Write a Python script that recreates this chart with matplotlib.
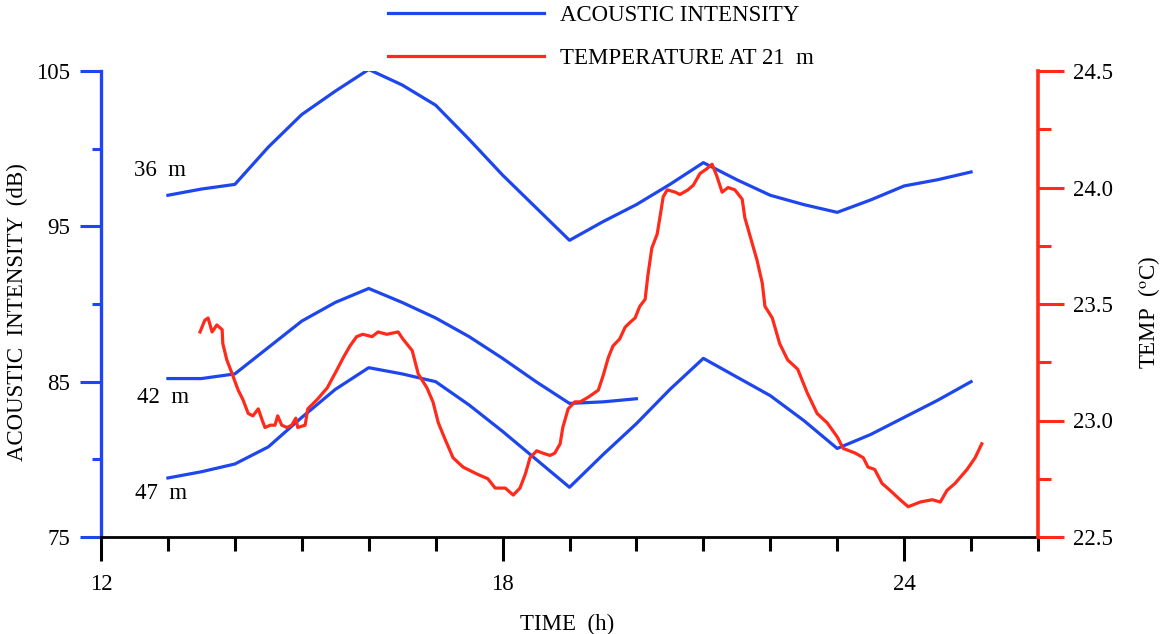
import numpy as np
import matplotlib
matplotlib.use("Agg")
import matplotlib.pyplot as plt
from matplotlib.ticker import MultipleLocator, FormatStrFormatter

plt.rcParams['font.family'] = ['Liberation Serif', 'DejaVu Serif']
plt.rcParams['mathtext.fontset'] = 'stix'

BLUE = '#1e46ee'
RED = '#ff2a1a'
FS = 16.5

# acoustic intensity (dB) at three depths
t_36 = [13.0, 13.5, 14.0, 14.5, 15.0, 15.5, 16.0, 16.5, 17.0, 17.5, 18.0, 18.5, 19.0,
        19.5, 20.0, 20.5, 21.0, 21.5, 22.0, 22.5, 23.0, 23.5, 24.0, 24.5, 25.0]
db_36 = [97.0, 97.4, 97.7, 100.1, 102.2, 103.7, 105.1, 104.1, 102.8, 100.6, 98.3, 96.2, 94.1,
         95.3, 96.4, 97.7, 99.1, 98.0, 97.0, 96.4, 95.9, 96.7, 97.6, 98.0, 98.5]

t_42 = [13.0, 13.5, 14.0, 14.5, 15.0, 15.5, 16.0, 16.5, 17.0, 17.5, 18.0, 18.5, 19.0, 19.5, 20.0]
db_42 = [85.2, 85.2, 85.5, 87.2, 88.9, 90.1, 91.0, 90.1, 89.1, 87.9, 86.5, 85.0, 83.6, 83.7, 83.9]

t_47 = [13.0, 13.5, 14.0, 14.5, 15.0, 15.5, 16.0, 16.5, 17.0, 17.5, 18.0, 18.5, 19.0,
        19.5, 20.0, 20.5, 21.0, 21.5, 22.0, 22.5, 23.0, 23.5, 24.0, 24.5, 25.0]
db_47 = [78.8, 79.2, 79.7, 80.8, 82.7, 84.5, 85.9, 85.5, 85.0, 83.5, 81.8, 80.0, 78.2,
         80.3, 82.3, 84.5, 86.5, 85.3, 84.1, 82.5, 80.7, 81.6, 82.7, 83.8, 85.0]

# temperature at 21 m (deg C)
t_temp = [13.48, 13.55, 13.60, 13.66, 13.73, 13.81, 13.82, 13.88, 13.96, 14.05, 14.12, 14.20,
          14.27, 14.35, 14.41, 14.45, 14.53, 14.60, 14.64, 14.70, 14.78, 14.85, 14.91, 14.94,
          15.05, 15.09, 15.23, 15.38, 15.53, 15.62, 15.72, 15.82, 15.91, 16.05, 16.14, 16.27,
          16.44, 16.51, 16.65, 16.74, 16.87, 16.96, 17.04, 17.14, 17.26, 17.41, 17.62, 17.78,
          17.89, 18.04, 18.16, 18.26, 18.34, 18.41, 18.51, 18.60, 18.71, 18.78, 18.86, 18.90,
          18.98, 19.08, 19.16, 19.28, 19.43, 19.50, 19.58, 19.65, 19.75, 19.83, 19.90, 19.98,
          20.05, 20.13, 20.17, 20.23, 20.31, 20.35, 20.40, 20.46, 20.58, 20.65, 20.77, 20.85,
          20.95, 21.05, 21.13, 21.20, 21.28, 21.37, 21.47, 21.58, 21.62, 21.70, 21.80, 21.88,
          21.92, 22.03, 22.14, 22.26, 22.41, 22.55, 22.70, 22.85, 23.00, 23.09, 23.27, 23.39,
          23.46, 23.56, 23.67, 23.79, 23.94, 24.06, 24.24, 24.42, 24.54, 24.64, 24.76, 24.94,
          25.06, 25.16]
temp = [23.38, 23.43, 23.44, 23.38, 23.41, 23.39, 23.33, 23.26, 23.20, 23.13, 23.09, 23.03,
        23.02, 23.05, 23.00, 22.97, 22.98, 22.98, 23.02, 22.98, 22.97, 22.98, 23.01, 22.97,
        22.98, 23.05, 23.09, 23.14, 23.22, 23.27, 23.32, 23.36, 23.37, 23.36, 23.38, 23.37,
        23.38, 23.35, 23.30, 23.20, 23.14, 23.08, 22.99, 22.92, 22.84, 22.80, 22.77, 22.75,
        22.71, 22.71, 22.68, 22.71, 22.77, 22.84, 22.87, 22.86, 22.85, 22.86, 22.90, 22.97,
        23.05, 23.08, 23.08, 23.10, 23.13, 23.19, 23.27, 23.32, 23.35, 23.40, 23.42, 23.44,
        23.49, 23.52, 23.62, 23.74, 23.80, 23.87, 23.96, 23.99, 23.98, 23.97, 23.99, 24.01,
        24.06, 24.08, 24.10, 24.05, 23.98, 24.00, 23.99, 23.95, 23.87, 23.79, 23.69, 23.59,
        23.49, 23.44, 23.33, 23.26, 23.22, 23.12, 23.03, 22.99, 22.93, 22.88, 22.86, 22.84,
        22.80, 22.79, 22.73, 22.70, 22.66, 22.63, 22.65, 22.66, 22.65, 22.70, 22.73, 22.79,
        22.84, 22.90]

depth_labels = ['36  m', '42  m', '47  m']
label_pos = [(12.88, 98.6), (12.92, 84.0), (12.90, 77.8)]

fig = plt.figure(figsize=(11.61, 6.34), dpi=100)
ax = fig.add_axes([101 / 1161, 1 - 537 / 634, 937 / 1161, 466 / 634])
ax2 = ax.twinx()

l1, = ax.plot(t_36, db_36, color=BLUE, lw=2.3, label='ACOUSTIC INTENSITY')
ax.plot(t_42, db_42, color=BLUE, lw=2.3)
ax.plot(t_47, db_47, color=BLUE, lw=2.3)
l2, = ax2.plot(t_temp, temp, color=RED, lw=2.3, label='TEMPERATURE AT 21  m')

for txt, (x, y) in zip(depth_labels, label_pos):
    ax.text(x, y, txt, fontsize=FS, ha='center', va='center')

ax.set_xlim(12, 26)
ax.set_ylim(75, 105)
ax2.set_ylim(22.5, 24.5)

# spines
for a in (ax, ax2):
    a.spines['top'].set_visible(False)
ax.spines['right'].set_visible(False)
ax2.spines['left'].set_visible(False)
ax2.spines['bottom'].set_visible(False)
ax.spines['left'].set_color(BLUE)
ax.spines['left'].set_linewidth(2.4)
ax.spines['bottom'].set_color('black')
ax.spines['bottom'].set_linewidth(2.0)
ax2.spines['right'].set_color(RED)
ax2.spines['right'].set_linewidth(2.6)

# x ticks
ax.xaxis.set_major_locator(MultipleLocator(6))
ax.xaxis.set_minor_locator(MultipleLocator(1))
ax.tick_params(axis='x', which='major', direction='out', length=17, width=2.2,
               color='black', labelsize=FS, pad=10)
ax.tick_params(axis='x', which='minor', direction='out', length=10, width=2.2, color='black')

# left y ticks
ax.yaxis.set_minor_locator(MultipleLocator(5))
ax.set_yticks([75, 85, 95, 105])
ax.tick_params(axis='y', which='major', direction='out', length=15, width=2.2,
               color=BLUE, labelsize=FS, pad=7)
ax.tick_params(axis='y', which='minor', direction='out', length=6.5, width=2.2, color=BLUE)

# right y ticks
ax2.yaxis.set_major_locator(MultipleLocator(0.5))
ax2.yaxis.set_minor_locator(MultipleLocator(0.25))
ax2.yaxis.set_major_formatter(FormatStrFormatter('%.1f'))
ax2.tick_params(axis='y', which='major', direction='out', length=18.5, width=2.2,
                color=RED, labelsize=FS, pad=7)
ax2.tick_params(axis='y', which='minor', direction='out', length=9.5, width=2.2, color=RED)

ax.set_xlabel('TIME  (h)', fontsize=FS)
ax.xaxis.set_label_coords(0.497, -0.165)
ax.set_ylabel('ACOUSTIC  INTENSITY  (dB)', fontsize=FS)
ax.yaxis.set_label_coords(-0.078, 0.483)
ax2.set_ylabel(r'TEMP  ($^{\mathrm{o}}$C)', fontsize=FS, rotation=90)
ax2.yaxis.set_label_coords(1.105, 0.483)

fig.legend(handles=[l1, l2], loc='upper left', bbox_to_anchor=(388 / 1161, 1 - 5 / 634),
           frameon=False, fontsize=FS, handlelength=6.8, handletextpad=0.7,
           labelspacing=0.95, borderpad=0, borderaxespad=0)

fig.savefig('out.png', dpi=100)
